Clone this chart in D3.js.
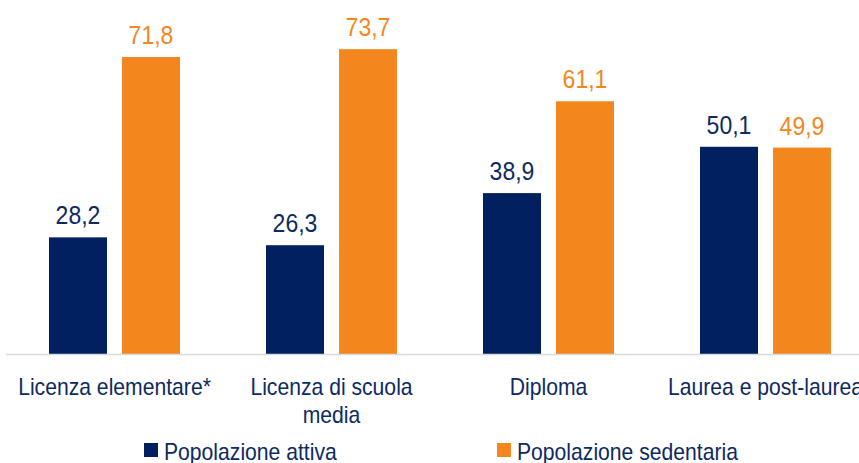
<!DOCTYPE html>
<html>
<head>
<meta charset="utf-8">
<script src="https://cdn.jsdelivr.net/npm/d3@7"></script>
<style>
  body { margin: 0; background: #fff; }
  svg { display: block; font-family: "Liberation Sans", Arial, sans-serif; }
</style>
</head>
<body>
<div id="chart"></div>
<script>
// Data
var categories = ["Licenza elementare*", "Licenza di scuola media", "Diploma", "Laurea e post-laurea"];
var categoryLines = [["Licenza elementare*"], ["Licenza di scuola", "media"], ["Diploma"], ["Laurea e post-laurea"]];
var seriesNames = ["Popolazione attiva", "Popolazione sedentaria"];
var attiva = [28.2, 26.3, 38.9, 50.1];
var sedentaria = [71.8, 73.7, 61.1, 49.9];

var width = 859;
var height = 463;
var baseline = 354;
var squeeze = 0.92; // the original text is a bit narrow

var colors = d3.scaleOrdinal()
    .domain(seriesNames)
    .range(["#002060", "#F4861E"]);
var textNavy = "#0D2A62";

var data = categories.map((c, i) => ({
    cat: c,
    lines: categoryLines[i],
    values: [
        { key: seriesNames[0], value: attiva[i] },
        { key: seriesNames[1], value: sedentaria[i] }
    ]
}));

const svg = d3.select("#chart")
    .append("svg")
    .attr("width", width)
    .attr("height", height);

// Scales
var x0 = d3.scaleBand()
    .domain(categories)
    .range([6, 874])
    .padding(0);
var x1 = d3.scaleBand()
    .domain(seriesNames)
    .range([43, 174])
    .paddingInner(15 / 73);
var y = d3.scaleLinear()
    .domain([0, 80])
    .range([baseline, baseline - 330.9]);

// Bars
var groups = svg.append("g")
    .selectAll("g")
    .data(data)
    .join("g")
    .attr("transform", d => `translate(${x0(d.cat)},0)`);

groups.selectAll("rect")
    .data(d => d.values)
    .join("rect")
      .attr("x", d => x1(d.key))
      .attr("y", d => y(d.value))
      .attr("width", x1.bandwidth())
      .attr("height", d => y(0) - y(d.value))
      .attr("fill", d => colors(d.key));

// Value labels
groups.selectAll("text.val")
    .data(d => d.values)
    .join("text")
      .attr("class", "val")
      .attr("transform", d => `translate(${x1(d.key) + x1.bandwidth() / 2},${y(d.value) - 13}) scale(${squeeze},1)`)
      .attr("text-anchor", "middle")
      .style("font-size", "25px")
      .attr("fill", d => d.key === seriesNames[0] ? textNavy : colors(d.key))
      .text(d => d3.format(".1f")(d.value).replace(".", ","));

// Baseline axis
svg.append("line")
    .attr("x1", 6)
    .attr("x2", width)
    .attr("y1", y(0) + 0.5)
    .attr("y2", y(0) + 0.5)
    .attr("stroke", "#d9d9d9")
    .attr("stroke-width", 1.5);

// Category labels
var catText = svg.append("g")
    .selectAll("text")
    .data(data)
    .join("text")
      .attr("transform", d => `translate(${x0(d.cat) + x0.bandwidth() / 2},395) scale(${squeeze},1)`)
      .attr("text-anchor", "middle")
      .attr("fill", textNavy)
      .style("font-size", "23px");
catText.selectAll("tspan")
    .data(d => d.lines)
    .join("tspan")
      .attr("x", 0)
      .attr("dy", (d, i) => i === 0 ? 0 : 28)
      .text(d => d);

// Legend
var legendX = [144, 497];
var legend = svg.append("g")
    .selectAll("g")
    .data(seriesNames)
    .join("g")
    .attr("transform", (d, i) => `translate(${legendX[i]},443)`);
legend.append("rect")
    .attr("width", 14)
    .attr("height", 14)
    .attr("fill", d => colors(d));
legend.append("text")
    .attr("transform", `translate(20,17) scale(${squeeze},1)`)
    .attr("fill", textNavy)
    .style("font-size", "23px")
    .text(d => d);
</script>
</body>
</html>
